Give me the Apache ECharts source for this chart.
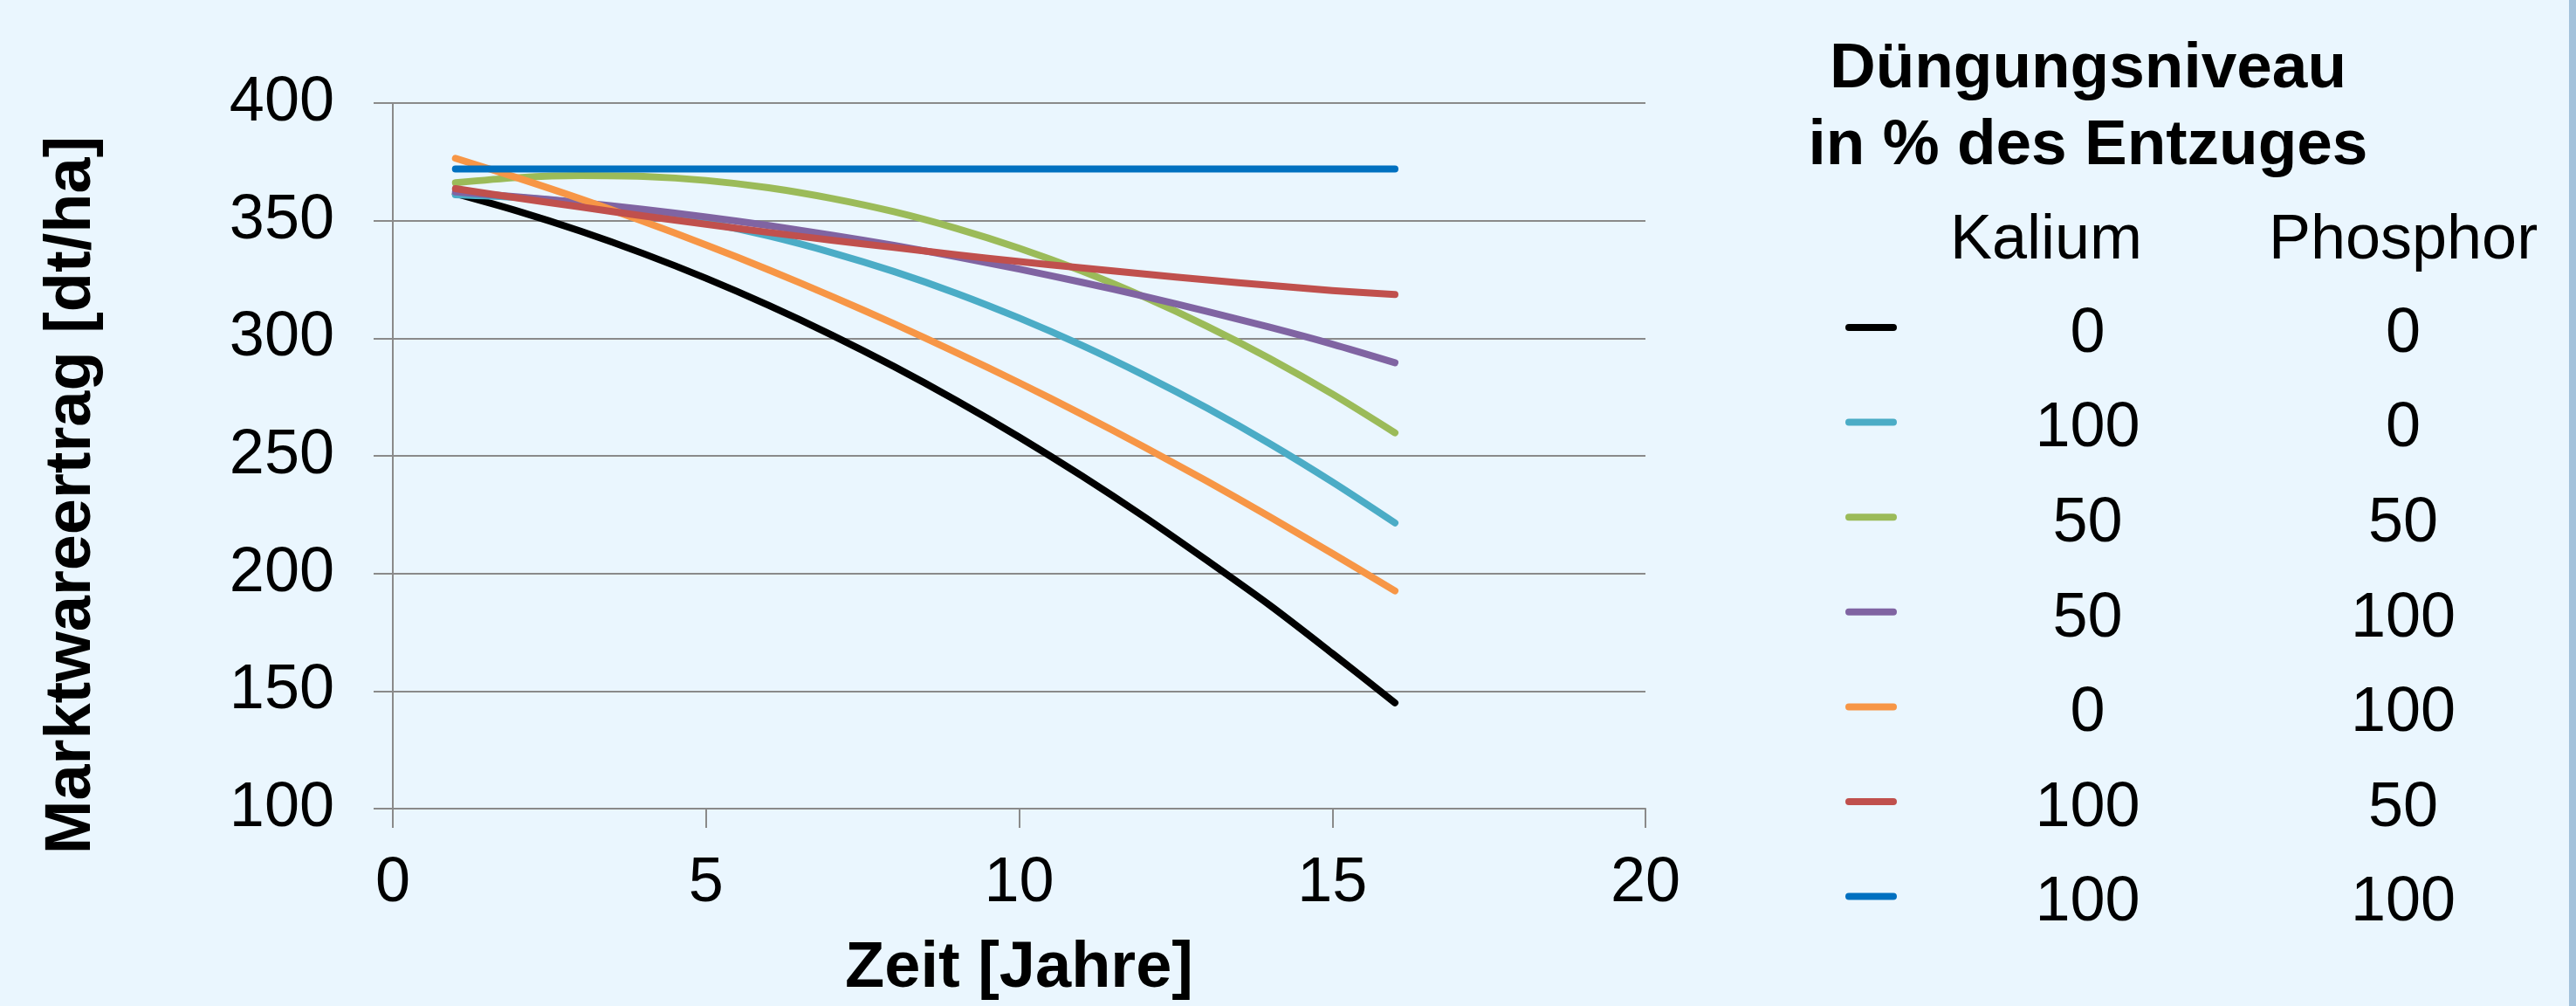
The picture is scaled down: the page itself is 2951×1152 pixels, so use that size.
<!DOCTYPE html>
<html>
<head>
<meta charset="utf-8">
<title>Marktwareertrag nach Düngungsniveau</title>
<script src="https://cdn.jsdelivr.net/npm/echarts@6/dist/echarts.min.js"></script>
<style>
  html, body { margin: 0; padding: 0; background: #eaf6fe; }
  #chart { width: 2951px; height: 1152px; }
</style>
</head>
<body>
<div id="chart"></div>
<script>
// Years after start of the trial
const years = [1, 2, 3, 4, 5, 6, 7, 8, 9, 10, 11, 12, 13, 14, 15, 16];

// Fertilisation level in % of removal (potassium / phosphorus) per curve
const kalium   = ['0', '100', '50', '50', '0', '100', '100'];
const phosphor = ['0', '0', '50', '100', '100', '50', '100'];

// Marketable yield [dt/ha] per year
const yieldK0P0     = [361.5, 354.0, 345.5, 336.0, 325.5, 314.0, 301.5, 288.0, 273.5, 258.0, 241.5, 224.0, 205.5, 186.5, 166.0, 145.0];
const yieldK100P0   = [361.0, 359.8, 357.5, 354.0, 349.3, 343.5, 336.5, 328.4, 319.1, 308.6, 297.0, 284.2, 270.3, 255.2, 238.9, 221.5];
const yieldK50P50   = [366.1, 368.3, 369.2, 368.8, 367.1, 364.0, 359.5, 353.8, 346.7, 338.3, 328.6, 317.5, 305.1, 291.4, 276.3, 259.8];
const yieldK50P100  = [362.2, 360.1, 357.7, 354.8, 351.6, 347.9, 343.9, 339.5, 334.6, 329.4, 323.8, 317.8, 311.4, 304.7, 297.5, 289.6];
const yieldK0P100   = [376.5, 368.1, 359.2, 349.7, 339.7, 329.1, 317.9, 306.2, 293.9, 281.1, 267.7, 253.7, 239.2, 224.1, 208.5, 192.6];
const yieldK100P50  = [363.6, 359.6, 355.8, 352.0, 348.5, 345.0, 341.7, 338.6, 335.5, 332.6, 329.9, 327.3, 324.8, 322.5, 320.3, 318.6];
const yieldK100P100 = [372.0, 372.0, 372.0, 372.0, 372.0, 372.0, 372.0, 372.0, 372.0, 372.0, 372.0, 372.0, 372.0, 372.0, 372.0, 372.0];

const yieldSeries = [yieldK0P0, yieldK100P0, yieldK50P50, yieldK50P100, yieldK0P100, yieldK100P50, yieldK100P100];
const lineColors = ['#000000', '#4bacc6', '#9bbb59', '#8064a2', '#f79646', '#c0504d', '#0070c0'];

// Axis ticks
const xTicks = [0, 5, 10, 15, 20];
const yTicks = [100, 150, 200, 250, 300, 350, 400];

const FONT = '"Liberation Sans", Arial, Helvetica, sans-serif';
const GRID_GREY = '#8a8a8a';

const seriesNames = kalium.map((k, i) => 'Kalium ' + k + ' % / Phosphor ' + phosphor[i] + ' %');

// Legend swatch: rounded bar on top, an empty point below it so the
// bar sits a little above the centre line of the legend text
const SWATCH = 'path://M4,0 L55,0 A4,4 0 0 1 55,8 L4,8 A4,4 0 0 1 4,0 Z M0,24 L0.01,24 Z';

const chart = echarts.init(document.getElementById('chart'), null, { renderer: 'canvas' });

const option = {
  backgroundColor: '#eaf6fe',
  animation: false,
  textStyle: { fontFamily: FONT, color: '#000' },
  grid: { left: 450, right: 1066, top: 118, bottom: 223, containLabel: false },
  title: [
    {
      text: 'Düngungsniveau\nin % des Entzuges',
      left: 2392, top: 36, textAlign: 'center', padding: 0,
      textStyle: { fontFamily: FONT, fontSize: 73, fontWeight: 'bold', color: '#000', lineHeight: 88 }
    },
    {
      text: 'Kalium',
      left: 2344, top: 240, textAlign: 'center', padding: 0,
      textStyle: { fontFamily: FONT, fontSize: 72, fontWeight: 'normal', color: '#000', lineHeight: 72 }
    },
    {
      text: 'Phosphor',
      left: 2753, top: 240, textAlign: 'center', padding: 0,
      textStyle: { fontFamily: FONT, fontSize: 72, fontWeight: 'normal', color: '#000', lineHeight: 72 }
    }
  ],
  legend: {
    orient: 'vertical',
    left: 2114, top: 347,
    padding: 0,
    itemGap: 36.6,
    itemWidth: 59, itemHeight: 24,
    icon: SWATCH,
    selectedMode: false,
    data: seriesNames,
    formatter: function (name) {
      const i = seriesNames.indexOf(name);
      return '{k|' + kalium[i] + '}{p|' + phosphor[i] + '}';
    },
    textStyle: {
      fontFamily: FONT, fontSize: 72, color: '#000', lineHeight: 72,
      rich: {
        k: { fontFamily: FONT, fontSize: 72, color: '#000', width: 427, align: 'center', lineHeight: 72 },
        p: { fontFamily: FONT, fontSize: 72, color: '#000', width: 296, align: 'center', lineHeight: 72 }
      }
    }
  },
  xAxis: {
    type: 'value',
    min: xTicks[0], max: xTicks[xTicks.length - 1], interval: 5,
    name: 'Zeit [Jahre]',
    nameLocation: 'middle',
    nameGap: 147,
    nameTextStyle: { fontFamily: FONT, fontSize: 74, fontWeight: 'bold', color: '#000' },
    axisLine: { show: true, lineStyle: { color: GRID_GREY, width: 2 } },
    axisTick: { show: true, inside: false, length: 22, lineStyle: { color: GRID_GREY, width: 2 } },
    axisLabel: { fontFamily: FONT, fontSize: 72, color: '#000', margin: 50 },
    splitLine: { show: false }
  },
  yAxis: {
    type: 'value',
    min: yTicks[0], max: yTicks[yTicks.length - 1], interval: 50,
    axisLine: { show: true, lineStyle: { color: GRID_GREY, width: 2 } },
    axisTick: { show: true, inside: false, length: 22, lineStyle: { color: GRID_GREY, width: 2 } },
    axisLabel: { fontFamily: FONT, fontSize: 72, color: '#000', margin: 67 },
    splitLine: { show: true, lineStyle: { color: GRID_GREY, width: 2 } }
  },
  graphic: [
    {
      type: 'text',
      x: 83, y: 567,
      rotation: Math.PI / 2,
      style: {
        text: 'Marktwareertrag [dt/ha]',
        fontFamily: FONT, fontSize: 74, fontWeight: 'bold',
        fill: '#000', align: 'center', verticalAlign: 'middle'
      }
    },
    {
      type: 'rect',
      shape: { x: 2943, y: 0, width: 8, height: 1152 },
      style: { fill: '#a4c2db' },
      silent: true
    }
  ],
  series: yieldSeries.map((vals, i) => ({
    name: seriesNames[i],
    type: 'line',
    data: years.map((yr, j) => [yr, vals[j]]),
    smooth: 0.3,
    symbol: 'none',
    color: lineColors[i],
    lineStyle: { color: lineColors[i], width: 8, cap: 'round', join: 'round' },
    itemStyle: { color: lineColors[i] },
    z: 2 + i
  }))
};

chart.setOption(option);
</script>
</body>
</html>
